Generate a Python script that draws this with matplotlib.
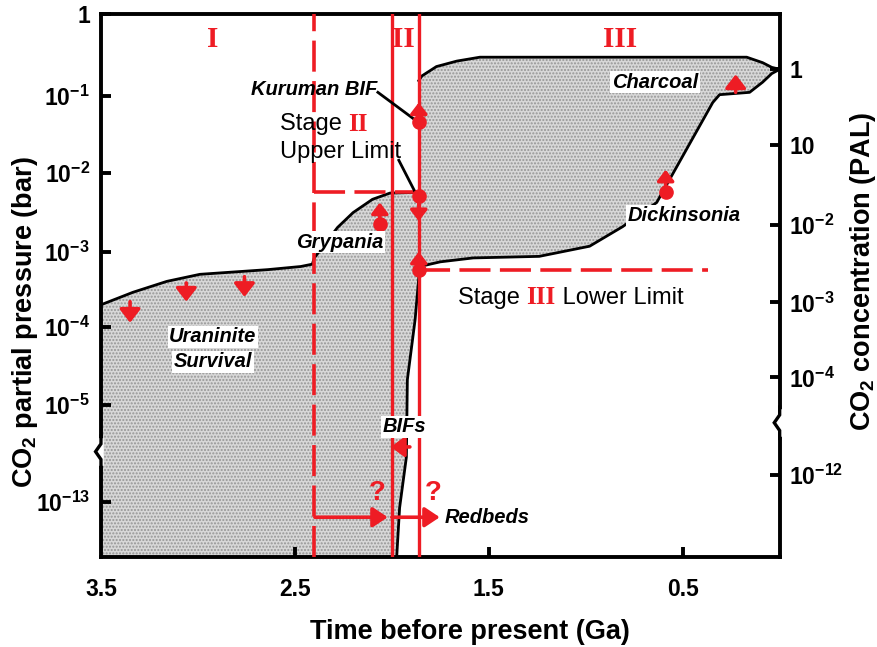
import numpy as np
import matplotlib
matplotlib.use("Agg")
import matplotlib.pyplot as plt
import matplotlib.transforms as mtransforms

plt.rcParams['font.family'] = ['Liberation Sans', 'DejaVu Sans']
plt.rcParams['mathtext.fontset'] = 'custom'
plt.rcParams['mathtext.rm'] = 'Liberation Sans'
plt.rcParams['mathtext.bf'] = 'Liberation Sans:bold'
plt.rcParams['mathtext.it'] = 'Liberation Sans:italic'
plt.rcParams['hatch.linewidth'] = 1.0

RED = '#ee1c24'

# --- DATA (x: Ga before present, y: plotted log-pCO2 position with axis break) ---
# upper boundary of the early (stage I) field
early_x = [3.5, 3.335, 3.16, 2.99, 2.64, 2.47, 2.41, 2.40, 2.28, 2.20, 2.10, 2.01, 1.861]
early_y = [-3.72, -3.56, -3.42, -3.33, -3.27, -3.23, -3.20, -3.12, -2.73, -2.54, -2.37, -2.29, -2.28]

# outline of the later field (clockwise from its upper left corner)
late_x = [1.861, 1.845, 1.77, 1.665, 1.546, 0.17, 0.088, 0.041, 0.0, 0.041, 0.088,
          0.155, 0.31, 0.345, 0.634, 0.81, 0.98, 1.24, 1.58, 1.75, 1.856,
          1.88, 1.92, 1.925, 1.96, 1.975]
late_y = [-0.85, -0.79, -0.67, -0.60, -0.55, -0.55, -0.62, -0.68, -0.705, -0.76, -0.87,
          -1.0, -1.03, -1.13, -2.41, -2.72, -2.97, -3.10, -3.12, -3.17, -3.23,
          -3.91, -4.68, -5.67, -6.32, -6.95]

# stage boundaries
stage_dashed = 2.4
stage_solid = [2.0, 1.861]
upper_limit = -2.28
lower_limit = -3.27
lower_limit_end = 0.37

# proxy constraints: circle position and arrow tip
circle_x = [1.861, 1.861, 1.861, 2.062, 0.588]
circle_y = [-1.385, -2.33, -3.27, -2.69, -2.27]
arrow_tip = [-1.13, -2.65, -3.04, -2.41, -1.99]
# bare arrows: x, tail y, tip y
bare_x = [0.227, 3.35, 3.06, 2.76]
bare_tail = [-1.0, -3.68, -3.44, -3.36]
bare_tip = [-0.77, -3.95, -3.68, -3.62]

# left axis ticks (bar) and right axis ticks (PAL)
left_pos = [0, -1.05, -2.03, -3.04, -4.0, -5.0, -6.24]
left_lab = ['1', r'$\mathbf{10^{-1}}$', r'$\mathbf{10^{-2}}$', r'$\mathbf{10^{-3}}$',
            r'$\mathbf{10^{-4}}$', r'$\mathbf{10^{-5}}$', r'$\mathbf{10^{-13}}$']
right_pos = [-0.705, -1.67, -2.70, -3.69, -4.65, -5.90]
right_lab = ['1', '10', r'$\mathbf{10^{-2}}$', r'$\mathbf{10^{-3}}$',
             r'$\mathbf{10^{-4}}$', r'$\mathbf{10^{-12}}$']
x_ticks = [3.5, 2.5, 1.5, 0.5]
x_labels = ['3.5', '2.5', '1.5', '0.5']
left_break = -5.60
right_break = -5.23

ymin, ymax = -6.95, 0.0

fig = plt.figure(figsize=(8.78, 6.47), dpi=100)
ax = fig.add_axes([0.115, 0.139, 0.773, 0.839])
ax.set_xlim(3.5, 0)
ax.set_ylim(ymin, ymax)

# shaded field
poly_x = [3.5] + early_x + late_x + [3.5]
poly_y = [ymin] + early_y + late_y + [ymin]
ax.fill(poly_x, poly_y, facecolor='#d8d8d8', edgecolor='#959595', hatch='.....',
        lw=0, zorder=1)
ax.plot(early_x, early_y, color='k', lw=2, zorder=2)
ax.plot(late_x, late_y, color='k', lw=2, zorder=2)

# stage lines
dash = (8.6, 2.6)
ax.plot([stage_dashed, stage_dashed], [ymin, ymax], color=RED, lw=2.6,
        dashes=dash, zorder=3)
for xs in stage_solid:
    ax.axvline(xs, color=RED, lw=2.4, zorder=3)
ax.plot([stage_dashed, stage_solid[1]], [upper_limit, upper_limit], color=RED,
        lw=2.6, dashes=dash, zorder=3)
ax.plot([stage_solid[1], lower_limit_end], [lower_limit, lower_limit], color=RED,
        lw=2.6, dashes=dash, zorder=3)

def red_arrow(x0, y0, x1, y1, hw=0.5, hl=0.65):
    ax.annotate('', xy=(x1, y1), xytext=(x0, y0),
                arrowprops=dict(arrowstyle=f'-|>,head_width={hw},head_length={hl}',
                                color=RED, lw=2.6, shrinkA=0, shrinkB=0),
                zorder=5)

for cx, cy, ty in zip(circle_x, circle_y, arrow_tip):
    red_arrow(cx, cy, cx, ty)
ax.plot(circle_x, circle_y, 'o', color=RED, ms=9.5, zorder=6)
for bx, b0, b1 in zip(bare_x, bare_tail, bare_tip):
    red_arrow(bx, b0, bx, b1, hw=0.62, hl=0.8)

# BIFs and redbeds arrows
red_arrow(1.907, -5.54, 2.005, -5.54, hw=0.6, hl=0.8)
red_arrow(2.397, -6.44, 2.021, -6.44, hw=0.6, hl=0.9)
red_arrow(2.0, -6.44, 1.753, -6.44, hw=0.6, hl=0.9)
for qx in [2.077, 1.789]:
    ax.text(qx, -6.13, '?', color=RED, fontsize=20, fontweight='bold',
            ha='center', va='center', zorder=6)

# stage numerals
for sx, s in zip([2.923, 1.938, 0.825], ['I', 'II', 'III']):
    ax.text(sx, -0.32, s, color=RED, fontsize=21, fontweight='bold',
            family='Liberation Serif', ha='center', va='center')

lab = dict(fontsize=14.5, fontweight='bold', style='italic', zorder=7)
wbox = dict(boxstyle='square,pad=0.08', fc='white', ec='none')
ax.text(2.075, -0.96, 'Kuruman BIF', ha='right', va='center', **lab)
ax.plot([2.072, 1.871], [-1.0, -1.37], color='k', lw=2, zorder=4)
ax.plot([1.964, 1.871], [-1.87, -2.32], color='k', lw=2, zorder=4)
ax.text(2.268, -2.92, 'Grypania', ha='center', va='center', bbox=wbox, **lab)
ax.text(2.923, -4.13, 'Uraninite', ha='center', va='center', bbox=wbox, **lab)
ax.text(2.923, -4.45, 'Survival', ha='center', va='center', bbox=wbox, **lab)
ax.text(1.933, -5.28, 'BIFs', ha='center', va='center', bbox=wbox, **lab)
ax.text(1.727, -6.44, 'Redbeds', ha='left', va='center', **lab)
ax.text(0.644, -0.87, 'Charcoal', ha='center', va='center', bbox=wbox, **lab)
ax.text(0.49, -2.58, 'Dickinsonia', ha='center', va='center', bbox=wbox, **lab)

def stage_label(x, y, numeral, tail):
    t1 = ax.text(x, y, 'Stage ', fontsize=17, va='center', ha='left')
    t2 = ax.annotate(numeral, xy=(1, 0.5), xycoords=t1, color=RED, fontweight='bold',
                     family='Liberation Serif', fontsize=18, va='center', ha='left')
    if tail:
        ax.annotate(tail, xy=(1, 0.5), xycoords=t2, fontsize=17, va='center',
                    ha='left')

stage_label(2.577, -1.41, 'II', '')
ax.text(2.577, -1.76, 'Upper Limit', fontsize=17, va='center', ha='left')
stage_label(1.66, -3.63, 'III', ' Lower Limit')

# axes styling
for sp in ax.spines.values():
    sp.set_linewidth(2.8)
ax.set_xticks(x_ticks, x_labels)
ax.set_yticks(left_pos, left_lab)
ax.tick_params(direction='in', length=7, width=2.8, labelsize=16.5, pad=8)
ax.tick_params(axis='x', pad=15)
for t in ax.get_xticklabels() + ax.get_yticklabels():
    t.set_fontweight('bold')
ax.xaxis.get_major_ticks()[0].tick1line.set_visible(False)
ax.yaxis.get_major_ticks()[0].tick1line.set_visible(False)

ax2 = ax.twinx()
ax2.set_ylim(ymin, ymax)
ax2.set_yticks(right_pos, right_lab)
ax2.tick_params(direction='in', length=7, width=2.8, labelsize=16.5, pad=7)
for t in ax2.get_yticklabels():
    t.set_fontweight('bold')
for sp in ax2.spines.values():
    sp.set_visible(False)

ax.set_xlabel('Time before present (Ga)', fontsize=19.5, fontweight='bold')
ax.xaxis.set_label_coords(0.543, -0.115)
ax.set_ylabel(r'$\mathbf{CO_2}$ partial pressure (bar)', fontsize=19.5,
              fontweight='bold')
ax.yaxis.set_label_coords(-0.09, 0.433)
ax2.set_ylabel(r'$\mathbf{CO_2}$ concentration (PAL)', fontsize=19.5,
               fontweight='bold')
ax2.yaxis.set_label_coords(1.1, 0.526)

# axis break marks
def spine_break(xa, yb):
    tr = mtransforms.blended_transform_factory(ax.transAxes, ax.transData)
    ax.plot([xa, xa], [yb - 0.14, yb + 0.14], color='white', lw=4,
            transform=tr, clip_on=False, zorder=10)
    ax.plot([xa, xa, xa - 0.008, xa, xa], [yb + 0.2, yb + 0.1, yb, yb - 0.1, yb - 0.2],
            color='k', lw=2.4, transform=tr, clip_on=False, zorder=11,
            solid_joinstyle='miter')

spine_break(0.0, left_break)
spine_break(1.0, right_break)

fig.savefig('out.png', dpi=100)
